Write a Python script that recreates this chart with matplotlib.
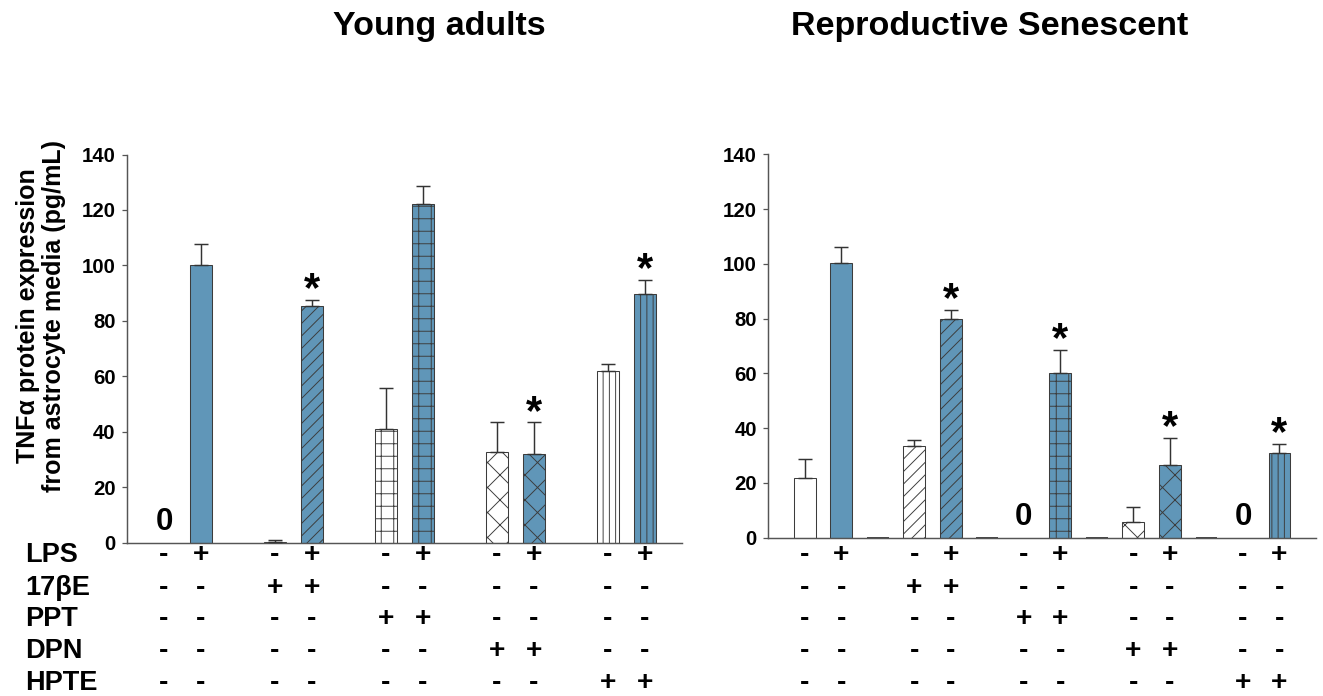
import matplotlib
matplotlib.use("Agg")
import matplotlib.pyplot as plt
from matplotlib.transforms import blended_transform_factory

plt.rcParams['font.family'] = ['Liberation Sans', 'DejaVu Sans']
plt.rcParams['font.weight'] = 'bold'
plt.rcParams['hatch.linewidth'] = 0.45

# ---- data ----
positions = [0, 1, 3, 4, 6, 7, 9, 10, 12, 13]
young_vals = [0, 100, 0.4, 85.5, 40.9, 122.1, 32.6, 32.0, 62.1, 89.7]
young_err = [0, 7.7, 0.6, 2.1, 14.8, 6.6, 11.1, 11.4, 2.4, 5.1]
young_zero = [True, False, False, False, False, False, False, False, False, False]
young_star = [False, False, False, True, False, False, False, True, False, True]

senes_vals = [21.7, 100.2, 33.5, 79.8, 0, 60.2, 5.6, 26.5, 0, 30.8]
senes_err = [7.1, 5.8, 2.2, 3.3, 0, 8.3, 5.5, 10.0, 0, 3.4]
senes_zero = [False, False, False, False, True, False, False, False, True, False]
senes_star = [False, False, False, True, False, True, False, True, False, True]
senes_spacers = [2, 5, 8, 11]

lps = ['-', '+'] * 5
hatches = ['', '////', '++', 'xx', '||||']
row_labels = ['LPS', '17\u03b2E', 'PPT', 'DPN', 'HPTE']
signs = [
    ['-', '+', '-', '+', '-', '+', '-', '+', '-', '+'],
    ['-', '-', '+', '+', '-', '-', '-', '-', '-', '-'],
    ['-', '-', '-', '-', '+', '+', '-', '-', '-', '-'],
    ['-', '-', '-', '-', '-', '-', '+', '+', '-', '-'],
    ['-', '-', '-', '-', '-', '-', '-', '-', '+', '+'],
]
titles = ['Young adults', 'Reproductive Senescent']
yticks = [0, 20, 40, 60, 80, 100, 120, 140]

BLUE = '#6096B8'
EDGE = '#3c3c3c'
W, H = 1323, 696
fig = plt.figure(figsize=(W / 150, H / 150), dpi=150)

ax1 = fig.add_axes([127 / W, 1 - 542.7 / H, (682 - 127) / W, (542.7 - 154.5) / H])
ax2 = fig.add_axes([768.3 / W, 1 - 537.7 / H, (1316 - 768.3) / W, (537.7 - 154.3) / H])

row_py = [555, 588, 619, 651, 683]


def draw(ax, vals, errs, zeros, stars, spacers):
    for k, (p, v, e, z, s) in enumerate(zip(positions, vals, errs, zeros, stars)):
        grp = k // 2
        face = BLUE if lps[k] == '+' else 'white'
        if z:
            ax.text(p, 2.0, '0', ha='center', va='bottom', fontsize=15,
                    fontweight='bold')
        else:
            ax.bar(p, v, width=0.6, color=face, edgecolor=EDGE, linewidth=0.5,
                   hatch=hatches[grp], zorder=2)
            ax.errorbar(p, v, yerr=[[0], [e]], fmt='none', ecolor='#333333',
                        elinewidth=0.7, capsize=3.4, capthick=0.7, zorder=3)
        if s:
            ax.annotate('*', xy=(p, v + e), xytext=(0, -5), textcoords='offset points',
                        ha='center', va='bottom', fontsize=20, fontweight='bold')
    for p in spacers:
        ax.bar(p, 0, width=0.6, color='white', edgecolor='#222222', linewidth=0.8,
               zorder=2)
    ax.set_xlim(-1, 14)
    ax.set_ylim(0, 140)
    ax.set_yticks(yticks)
    ax.set_yticklabels([str(t) for t in yticks], fontsize=9.8, fontweight='bold')
    for sp in ['top', 'right']:
        ax.spines[sp].set_visible(False)
    for sp in ['left', 'bottom']:
        ax.spines[sp].set_color('#555555')
        ax.spines[sp].set_linewidth(0.7)
    ax.tick_params(axis='y', direction='out', length=2.5, width=0.6, color='#555555',
                   pad=3)
    ax.tick_params(axis='x', bottom=False, labelbottom=False)
    tr = blended_transform_factory(ax.transData, fig.transFigure)
    for r, row in enumerate(signs):
        for k, sgn in enumerate(row):
            ax.text(positions[k], 1 - row_py[r] / H, sgn, transform=tr, ha='center',
                    va='center', fontsize=13.5, fontweight='bold', clip_on=False)


draw(ax1, young_vals, young_err, young_zero, young_star, [])
draw(ax2, senes_vals, senes_err, senes_zero, senes_star, senes_spacers)

for r, lab in enumerate(row_labels):
    fig.text(25 / W, 1 - row_py[r] / H, lab, ha='left', va='center', fontsize=13,
             fontweight='bold')

fig.text(439 / W, 1 - 26 / H, titles[0], ha='center', va='center', fontsize=16.3,
         fontweight='bold')
fig.text(990 / W, 1 - 26 / H, titles[1], ha='center', va='center', fontsize=16.3,
         fontweight='bold')

fig.text(41 / W, 1 - 316 / H, 'TNF\u03b1 protein expression\nfrom astrocyte media (pg/mL)',
         rotation=90, ha='center', va='center', fontsize=12, fontweight='bold',
         linespacing=1.1, multialignment='center')

fig.savefig('out.png', dpi=150)
